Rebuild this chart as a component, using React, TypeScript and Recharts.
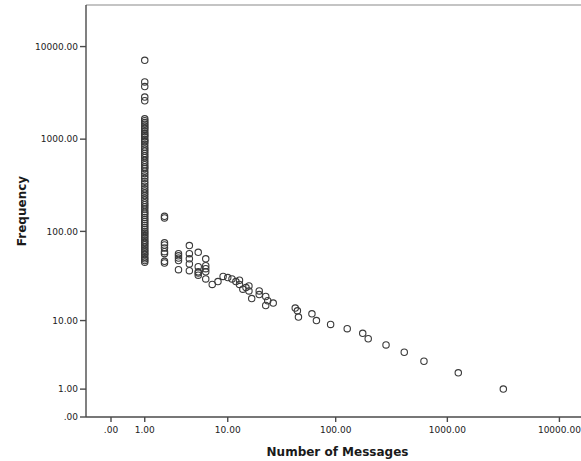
import React from "react";
import { ScatterChart, Scatter, XAxis, YAxis, ReferenceLine } from "recharts";

// Frequency of users sending N messages, plotted on log(v + 1) axes
const singleMessageFrequencies = [
  7100, 4150, 3700, 2850, 2600,
  1660, 1580, 1510, 1450, 1390, 1330, 1280, 1210, 1150, 1100, 1060, 1000,
  960, 930, 880, 820, 780, 740, 700, 660, 630, 590, 560, 530, 500, 480, 450,
  425, 400, 375, 350, 330, 310, 290, 275, 260, 245, 230, 218, 205, 195, 185,
  175, 165, 158, 150, 142, 135, 128, 122, 116, 110, 105, 100, 96, 92, 88,
  84, 80, 77, 74, 71, 68, 65, 62, 60, 57, 55, 52, 50, 48, 46,
];

const shortCounts = [2, 3, 4, 5, 6];
const shortFrequencies = [
  [146, 140, 75, 71, 66, 60, 57, 47, 45],
  [57, 54, 51, 48, 38],
  [70, 57, 50, 44, 37],
  [59, 41, 36, 35, 33],
  [50, 42, 39, 36, 30],
];

const tailCounts = [
  7, 8, 9, 10, 11, 12, 13, 13, 14, 15, 16, 16, 17, 20, 20, 23, 24, 23, 27,
  43, 45, 46, 61, 67, 90, 127, 175, 196, 283, 412, 618, 1252, 3159,
];
const tailFrequencies = [
  26, 28, 32, 31, 30, 28, 29, 26, 23, 24, 25, 22, 18, 22, 20, 19, 17, 15, 16,
  14, 13, 11, 12, 10, 9, 8, 7, 6, 5, 4, 3, 2, 1,
];

const tickValues = [0, 1, 10, 100, 1000, 10000];

const toAxis = (v: number) => Math.log10(v + 1);
const fromAxis = (v: number) => Math.round(Math.pow(10, v) - 1);
const fmt = (v: number) => {
  const n = fromAxis(v);
  return n === 0 ? ".00" : n.toFixed(2);
};

const raw: { count: number; freq: number }[] = [
  ...singleMessageFrequencies.map((f) => ({ count: 1, freq: f })),
  ...shortCounts.flatMap((c, i) => shortFrequencies[i].map((f) => ({ count: c, freq: f }))),
  ...tailCounts.map((c, i) => ({ count: c, freq: tailFrequencies[i] })),
];
const points = raw.map((p) => ({ ...p, lx: toAxis(p.count), ly: toAxis(p.freq) }));

const X_DOMAIN: [number, number] = [-0.223, 4.264];
const Y_DOMAIN: [number, number] = [0, 4.449];

const tickFont = { fontFamily: "DejaVu Sans", fontSize: 9, fill: "#222" };
const titleFont = { fontFamily: "DejaVu Sans", fontSize: 12, fontWeight: "bold" as const, fill: "#1a1a1a" };
const axisStroke = { stroke: "#4a4a4a", strokeWidth: 1.4 };

const Ring = (props: any) => (
  <circle cx={props.cx} cy={props.cy} r={3.2} fill="none" stroke="#3a3a3a" strokeWidth={1.1} />
);

const XTitle = (props: any) => {
  const vb = props.viewBox;
  return (
    <text x={vb.x + vb.width / 2} y={vb.y + 38.5} textAnchor="middle" {...titleFont}>
      Number of Messages
    </text>
  );
};

const YTitle = (props: any) => {
  const vb = props.viewBox;
  const cx = 26;
  const cy = vb.y + vb.height / 2;
  return (
    <text x={cx} y={cy} textAnchor="middle" transform={`rotate(-90, ${cx}, ${cy})`} {...titleFont}>
      Frequency
    </text>
  );
};

export default function App() {
  return (
    <div style={{ width: 581, height: 461, overflow: "hidden", background: "#fff" }}>
      <style>{"body{margin:0}"}</style>
      <ScatterChart width={589} height={461} margin={{ top: 5, right: 0, bottom: 0, left: 0 }}>
        <XAxis
          type="number"
          dataKey="lx"
          domain={X_DOMAIN}
          ticks={tickValues.map(toAxis)}
          tickFormatter={fmt}
          allowDataOverflow
          height={44}
          tickSize={5}
          tickMargin={5}
          tick={tickFont}
          axisLine={axisStroke}
          tickLine={axisStroke}
          label={{ content: XTitle }}
        />
        <YAxis
          type="number"
          dataKey="ly"
          domain={Y_DOMAIN}
          ticks={tickValues.map(toAxis)}
          tickFormatter={fmt}
          allowDataOverflow
          width={86}
          tickSize={6}
          tickMargin={2}
          tick={tickFont}
          axisLine={axisStroke}
          tickLine={axisStroke}
          label={{ content: YTitle }}
        />
        <ReferenceLine y={Y_DOMAIN[1]} stroke="#8a8a8a" strokeWidth={1.2} ifOverflow="visible" />
        <Scatter data={points} shape={Ring} isAnimationActive={false} />
      </ScatterChart>
    </div>
  );
}
